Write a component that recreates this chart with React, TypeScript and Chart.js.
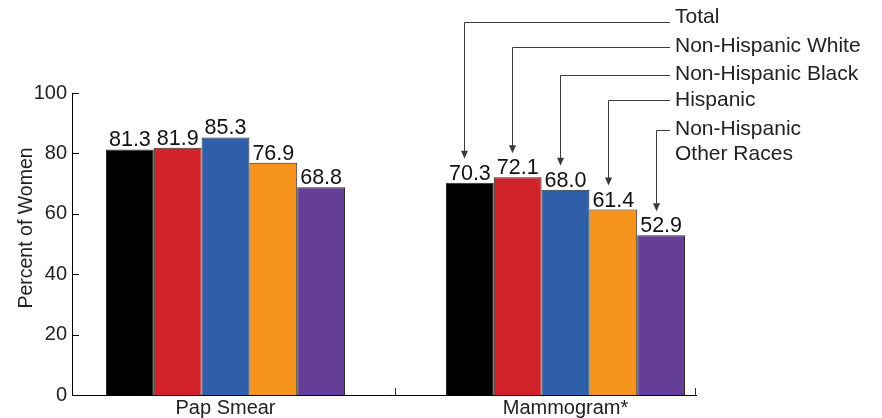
import React, { useEffect, useRef } from 'react';
import { Chart, registerables } from 'chart.js';

Chart.register(...registerables);

// ---- data ----
const categories = ['Pap Smear', 'Mammogram*'];
const seriesNames = ['Total', 'Non-Hispanic White', 'Non-Hispanic Black', 'Hispanic', 'Non-Hispanic\nOther Races'];
const total = [81.3, 70.3];
const nhWhite = [81.9, 72.1];
const nhBlack = [85.3, 68.0];
const hispanic = [76.9, 61.4];
const nhOther = [68.8, 52.9];
const yTickValues = [0, 20, 40, 60, 80, 100];
const yTitle = 'Percent of Women';

const seriesValues = [total, nhWhite, nhBlack, hispanic, nhOther];
const colors = ['#000000', '#d2232a', '#2e5fa8', '#f7941d', '#643e97'];

const FONT = '"Liberation Sans", Arial, Helvetica, sans-serif';
const TEXT = '#222222';

// layout for callout legend (pixel positions of text rows)
const legendTextX = 675;
const legendLineEndX = 670;
const legendTextY = [17.5, 46, 74.5, 100, 129];
const legendLineY = [21.5, 47, 75, 99.5, 129.5];
const legendLineGap = 25.5;

const decorPlugin = {
  id: 'decor',
  afterDatasetsDraw(chart: any) {
    const ctx = chart.ctx as CanvasRenderingContext2D;
    const xs = chart.scales.x;
    const ys = chart.scales.y;
    ctx.save();

    // inward tick marks on y axis
    ctx.strokeStyle = '#000';
    ctx.lineWidth = 1;
    ctx.beginPath();
    yTickValues.forEach((v) => {
      const y = Math.round(ys.getPixelForValue(v)) + 0.5;
      ctx.moveTo(xs.left, y);
      ctx.lineTo(xs.left + 7, y);
    });
    ctx.stroke();

    // inward tick marks on x axis (category divider and end)
    ctx.strokeStyle = '#333';
    ctx.beginPath();
    [0.5, xs.max].forEach((v: number) => {
      const x = Math.round(xs.getPixelForValue(v)) - 0.5;
      ctx.moveTo(x, ys.bottom);
      ctx.lineTo(x, ys.bottom - 7);
    });
    ctx.stroke();

    // value labels
    ctx.font = `21.5px ${FONT}`;
    ctx.fillStyle = '#111';
    ctx.textAlign = 'center';
    ctx.textBaseline = 'alphabetic';
    chart.data.datasets.forEach((_ds: any, i: number) => {
      chart.getDatasetMeta(i).data.forEach((bar: any, j: number) => {
        ctx.fillText(seriesValues[i][j].toFixed(1), bar.x, bar.y - 3);
      });
    });

    // callout legend
    ctx.font = `21px ${FONT}`;
    ctx.textAlign = 'left';
    ctx.textBaseline = 'middle';
    seriesNames.forEach((name, i) => {
      const bar: any = chart.getDatasetMeta(i).data[1];
      const ax = Math.round(bar.x - 5.5) + 0.5;
      const tipY = bar.y - 24;
      const ly = Math.round(legendLineY[i]) + 0.5;
      ctx.strokeStyle = '#3a3a3a';
      ctx.lineWidth = 1;
      ctx.beginPath();
      ctx.moveTo(legendLineEndX, ly);
      ctx.lineTo(ax, ly);
      ctx.lineTo(ax, tipY - 7);
      ctx.stroke();
      ctx.fillStyle = '#3a3a3a';
      ctx.beginPath();
      ctx.moveTo(ax - 3.5, tipY - 8);
      ctx.lineTo(ax + 3.5, tipY - 8);
      ctx.lineTo(ax, tipY);
      ctx.closePath();
      ctx.fill();
      ctx.fillStyle = TEXT;
      name.split('\n').forEach((line, k) => {
        ctx.fillText(line, legendTextX, legendTextY[i] + k * legendLineGap);
      });
    });

    // y axis title
    ctx.save();
    ctx.translate(27, 228);
    ctx.rotate(-Math.PI / 2);
    ctx.textAlign = 'center';
    ctx.textBaseline = 'middle';
    ctx.font = `19.5px ${FONT}`;
    ctx.fillStyle = TEXT;
    ctx.fillText(yTitle, 0, 0);
    ctx.restore();

    ctx.restore();
  },
};

export default function App() {
  const ref = useRef<HTMLCanvasElement | null>(null);

  useEffect(() => {
    if (!ref.current) return;
    const chart = new Chart(ref.current, {
      type: 'bar',
      data: {
        datasets: seriesNames.map((name, i) => ({
          label: name,
          data: seriesValues[i].map((v, j) => ({ x: j, y: v })),
          backgroundColor: colors[i],
          borderColor: '#2a2a2a',
          borderWidth: 1,
          categoryPercentage: 0.703,
          barPercentage: 1,
        })),
      },
      options: {
        responsive: false,
        animation: false,
        layout: { padding: { top: 93, right: 186, left: 0, bottom: 0 } },
        plugins: {
          legend: { display: false },
          tooltip: { enabled: false },
        },
        scales: {
          x: {
            type: 'linear',
            min: -0.4515,
            max: 1.3838,
            offset: false,
            grid: { display: false, drawTicks: false },
            border: { display: true, color: '#000', width: 1 },
            afterBuildTicks: (scale: any) => {
              scale.ticks = categories.map((_c, j) => ({ value: j }));
            },
            afterFit: (scale: any) => {
              scale.height = 23;
            },
            ticks: {
              autoSkip: false,
              maxRotation: 0,
              padding: 1,
              color: TEXT,
              font: { family: FONT, size: 20 },
              callback: (v: any) => categories[v] ?? '',
            },
          },
          y: {
            min: 0,
            max: 100,
            grid: { display: false, drawTicks: false },
            border: { display: true, color: '#000', width: 1 },
            afterFit: (scale: any) => {
              scale.width = 72;
            },
            ticks: {
              stepSize: 20,
              padding: 5,
              color: TEXT,
              font: { family: FONT, size: 20 },
            },
          },
        },
      },
      plugins: [decorPlugin],
    });
    return () => chart.destroy();
  }, []);

  return (
    <div style={{ position: 'fixed', left: 0, top: 0, width: 882, height: 418, background: '#fff' }}>
      <canvas ref={ref} width={882} height={418} style={{ display: 'block' }} />
    </div>
  );
}
